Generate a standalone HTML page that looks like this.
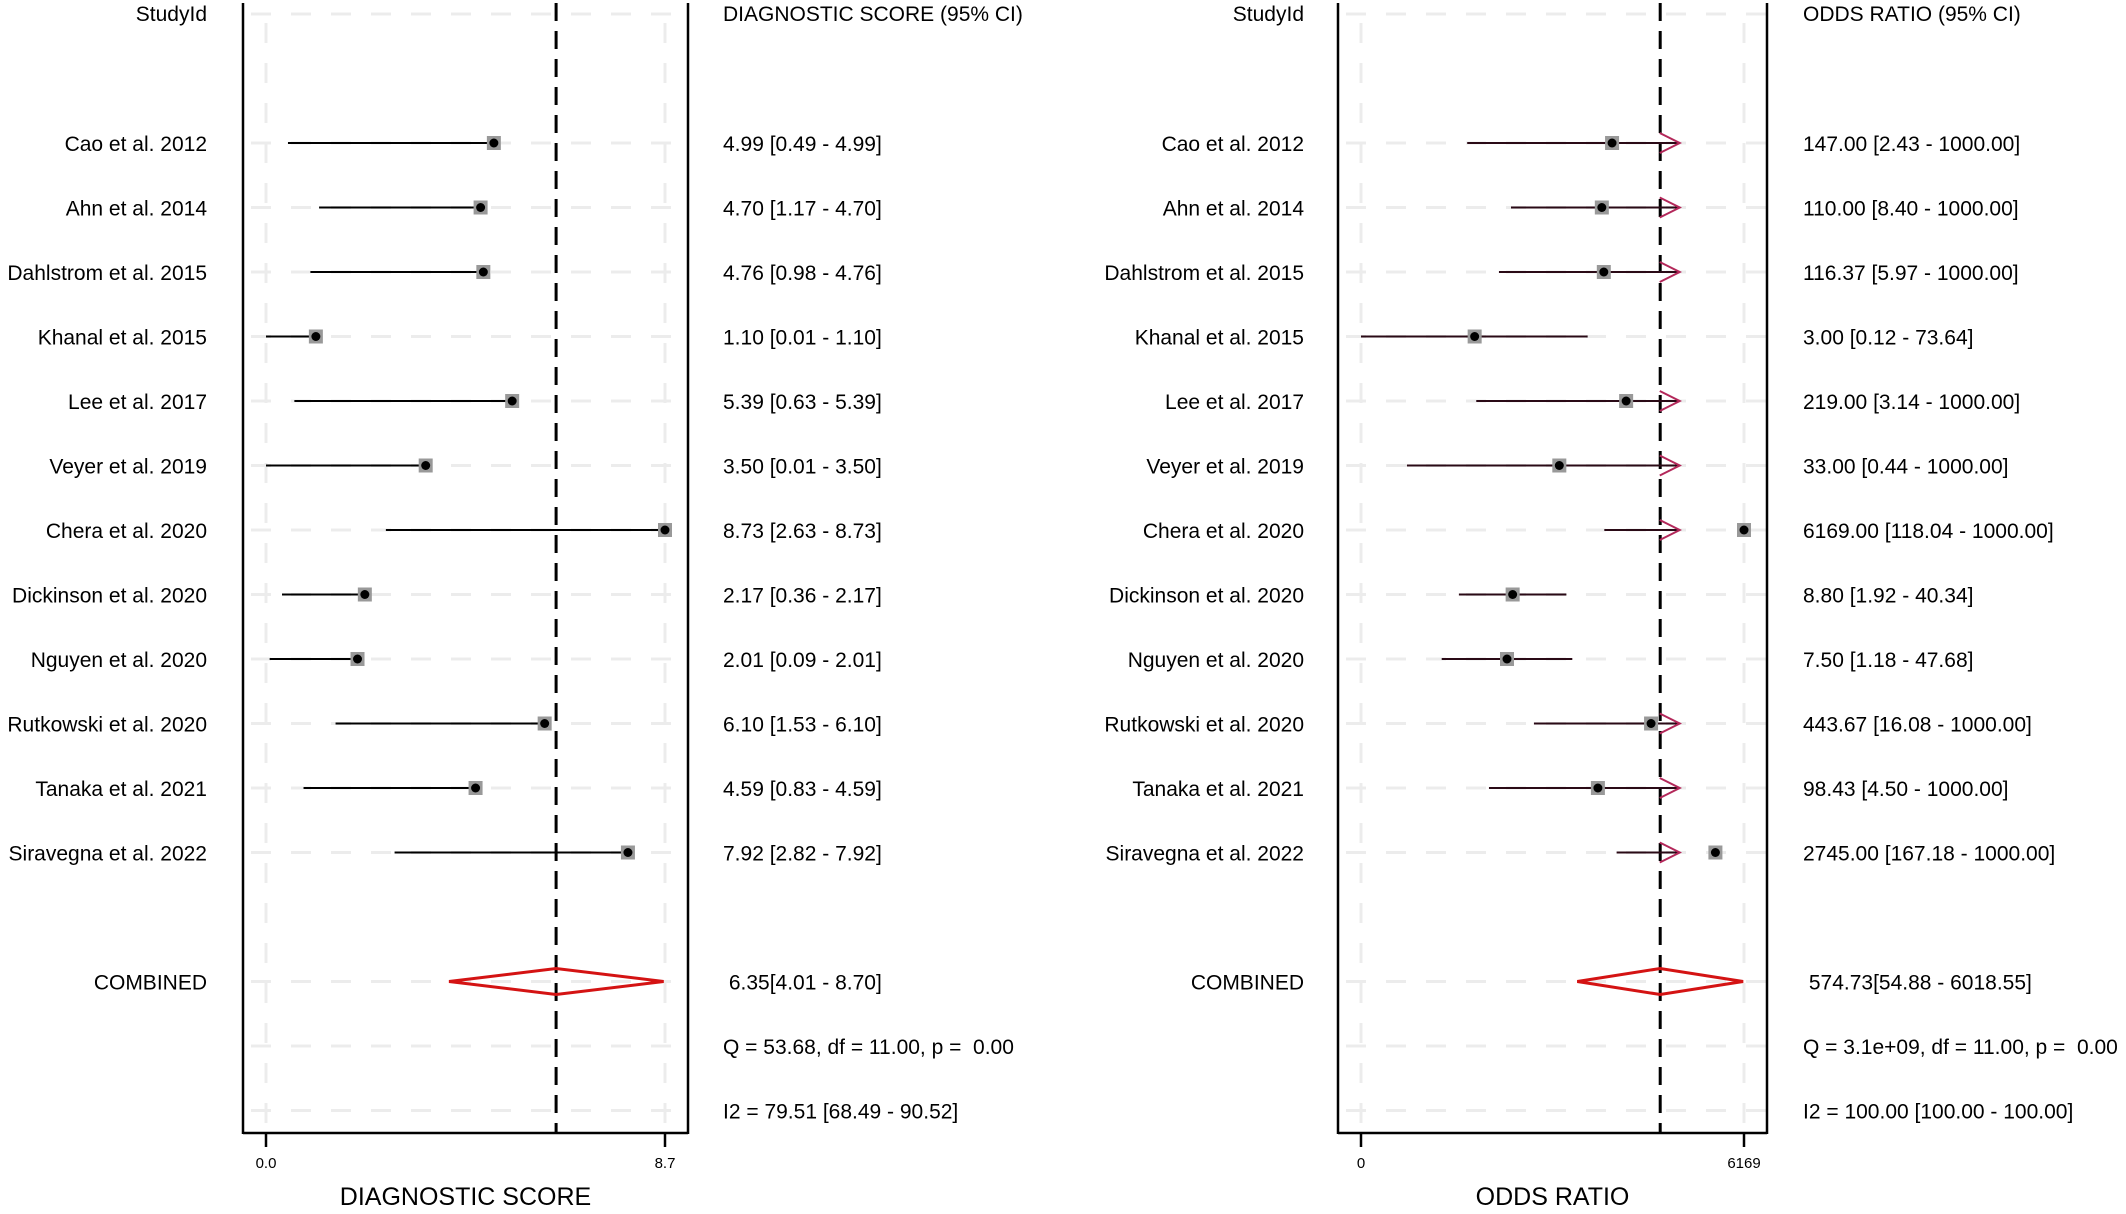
<!DOCTYPE html>
<html><head><meta charset="utf-8"><title>Forest plots</title>
<style>
html,body{margin:0;padding:0;background:#fff;}
svg{display:block;font-family:"Liberation Sans",Arial,sans-serif;}
svg text{white-space:pre;}
</style></head>
<body>
<svg id="chart" width="2126" height="1214" viewBox="0 0 2126 1214" xmlns="http://www.w3.org/2000/svg"></svg>
<script>
const studies = ["Cao et al. 2012","Ahn et al. 2014","Dahlstrom et al. 2015","Khanal et al. 2015","Lee et al. 2017","Veyer et al. 2019","Chera et al. 2020","Dickinson et al. 2020","Nguyen et al. 2020","Rutkowski et al. 2020","Tanaka et al. 2021","Siravegna et al. 2022"];
const dsEst = [4.99,4.70,4.76,1.10,5.39,3.50,8.73,2.17,2.01,6.10,4.59,7.92];
const dsLo  = [0.49,1.17,0.98,0.01,0.63,0.01,2.63,0.36,0.09,1.53,0.83,2.82];
const dsHi  = [4.99,4.70,4.76,1.10,5.39,3.50,8.73,2.17,2.01,6.10,4.59,7.92];
const dsCombined = [6.35,4.01,8.70];
const dsTicks = ["0.0","8.7"];
const dsTickVals = [0.01,8.73];
const dsStats = ["Q = 53.68, df = 11.00, p =  0.00","I2 = 79.51 [68.49 - 90.52]"];
const orEst = [147.00,110.00,116.37,3.00,219.00,33.00,6169.00,8.80,7.50,443.67,98.43,2745.00];
const orLo  = [2.43,8.40,5.97,0.12,3.14,0.44,118.04,1.92,1.18,16.08,4.50,167.18];
const orHi  = [1000,1000,1000,73.64,1000,1000,1000,40.34,47.68,1000,1000,1000];
const orCombined = [574.73,54.88,6018.55];
const orTicks = ["0","6169"];
const orTickVals = [0.12,6169];
const orStats = ["Q = 3.1e+09, df = 11.00, p =  0.00","I2 = 100.00 [100.00 - 100.00]"];

const NS="http://www.w3.org/2000/svg";
const svg=document.getElementById('chart');
function el(tag,attrs,parent,text){const e=document.createElementNS(NS,tag);for(const k in attrs)e.setAttribute(k,attrs[k]);if(text!==undefined)e.textContent=text;(parent||svg).appendChild(e);return e;}
function rowY(k){return 14+64.5*k;}
const fmt=v=>v.toFixed(2);

function panel(cfg){
  const g=el('g',{});
  
  
  const X=cfg.x;
  const gridRows=[0];for(let i=0;i<12;i++)gridRows.push(2+i);gridRows.push(15,16,17);
  gridRows.forEach(k=>{const l=el('line',{x1:cfg.fl,x2:cfg.fr,y1:rowY(k),y2:rowY(k),stroke:'#ececec','stroke-width':3,'stroke-dasharray':'20 20','stroke-dashoffset':-8},g);
    });
  cfg.tickVals.forEach(v=>{const l=el('line',{x1:X(v),x2:X(v),y1:3,y2:1133,stroke:'#ececec','stroke-width':3,'stroke-dasharray':'20 20','stroke-dashoffset':-20},g);
    });
  let f=el('line',{x1:cfg.fl,x2:cfg.fl,y1:3,y2:1134,stroke:'#000','stroke-width':2.5},g);
  f=el('line',{x1:cfg.fr,x2:cfg.fr,y1:3,y2:1134,stroke:'#000','stroke-width':2.5},g);
  f=el('line',{x1:cfg.fl,x2:cfg.fr,y1:1133,y2:1133,stroke:'#000','stroke-width':2.5},g);
  cfg.tickVals.forEach((v,i)=>{
    const t=el('line',{x1:X(v),x2:X(v),y1:1133,y2:1147,stroke:'#000','stroke-width':2.5},g);
    
    const tl=el('text',{x:X(v),y:1168,'font-size':15,'text-anchor':'middle'},g,cfg.ticks[i]);
    
  });
  const at=el('text',{x:(cfg.fl+cfg.fr)/2,y:1205,'font-size':25,'text-anchor':'middle'},g,cfg.axisTitle);
  
  let h=el('text',{x:cfg.labelX,y:rowY(0)+7,'font-size':21,'text-anchor':'end'},g,'StudyId');
  
  h=el('text',{x:cfg.valX,y:rowY(0)+7,'font-size':21},g,cfg.valHeader);
  
  const cx=X(cfg.comb[0]);
  const rl=el('line',{x1:cx,x2:cx,y1:3,y2:1133,stroke:'#000','stroke-width':3,'stroke-dasharray':'18 10'},g);
  
  studies.forEach((s,i)=>{
    const y=rowY(2+i);
    const lab=el('text',{x:cfg.labelX,y:y+8,'font-size':21,'text-anchor':'end'},g,s);
    
    const val=el('text',{x:cfg.valX,y:y+8,'font-size':21},g,fmt(cfg.est[i])+' ['+fmt(cfg.lo[i])+' - '+fmt(cfg.hi[i])+']');
    
    const clipped=cfg.clip && cfg.hi[i]>=cfg.clip;
    const ci=el('line',{x1:X(cfg.lo[i]),x2:X(cfg.hi[i]),y1:y,y2:y,stroke:cfg.lineColor,'stroke-width':2},g);
    
    if(clipped){
      const tx=X(cfg.hi[i]);
      const ar=el('polyline',{points:(tx-20)+','+(y-10)+' '+tx+','+y+' '+(tx-20)+','+(y+10),fill:'none',stroke:'#b3285a','stroke-width':2},g);
      
    }
    const ex=X(cfg.est[i]);
    const sq=el('rect',{x:ex-7,y:y-7,width:14,height:14,fill:'#999'},g);
    
    const dot=el('circle',{cx:ex,cy:y,r:4.5,fill:'#000'},g);
    
  });
  const yc=rowY(15);
  const cl=el('text',{x:cfg.labelX,y:yc+8,'font-size':21,'text-anchor':'end'},g,'COMBINED');
  
  const cv=el('text',{x:cfg.valX,y:yc+8,'font-size':21},g,' '+fmt(cfg.comb[0])+'['+fmt(cfg.comb[1])+' - '+fmt(cfg.comb[2])+']');
  
  const dm=el('polygon',{points:X(cfg.comb[1])+','+yc+' '+cx+','+(yc-13)+' '+X(cfg.comb[2])+','+yc+' '+cx+','+(yc+13),fill:'none',stroke:'#d41313','stroke-width':3},g);
  
  cfg.stats.forEach((s,j)=>{
    const st=el('text',{x:cfg.valX,y:rowY(16+j)+8,'font-size':21},g,s);
    
  });
}

const dsX=v=>266+(v-dsTickVals[0])/(dsTickVals[1]-dsTickVals[0])*399;
const L0=Math.log(orTickVals[0]),L1=Math.log(orTickVals[1]);
const orX=v=>1361+(Math.log(v)-L0)/(L1-L0)*383;

panel({name:'diagnostic-score-panel',x:dsX,fl:243,fr:688,labelX:207,valX:723,est:dsEst,lo:dsLo,hi:dsHi,comb:dsCombined,ticks:dsTicks,tickVals:dsTickVals,stats:dsStats,axisTitle:'DIAGNOSTIC SCORE',valHeader:'DIAGNOSTIC SCORE (95% CI)',lineColor:'#000',clip:null});
panel({name:'odds-ratio-panel',x:orX,fl:1338,fr:1767,labelX:1304,valX:1803,est:orEst,lo:orLo,hi:orHi,comb:orCombined,ticks:orTicks,tickVals:orTickVals,stats:orStats,axisTitle:'ODDS RATIO',valHeader:'ODDS RATIO (95% CI)',lineColor:'#2a0a16',clip:1000});
</script>
</body></html>
